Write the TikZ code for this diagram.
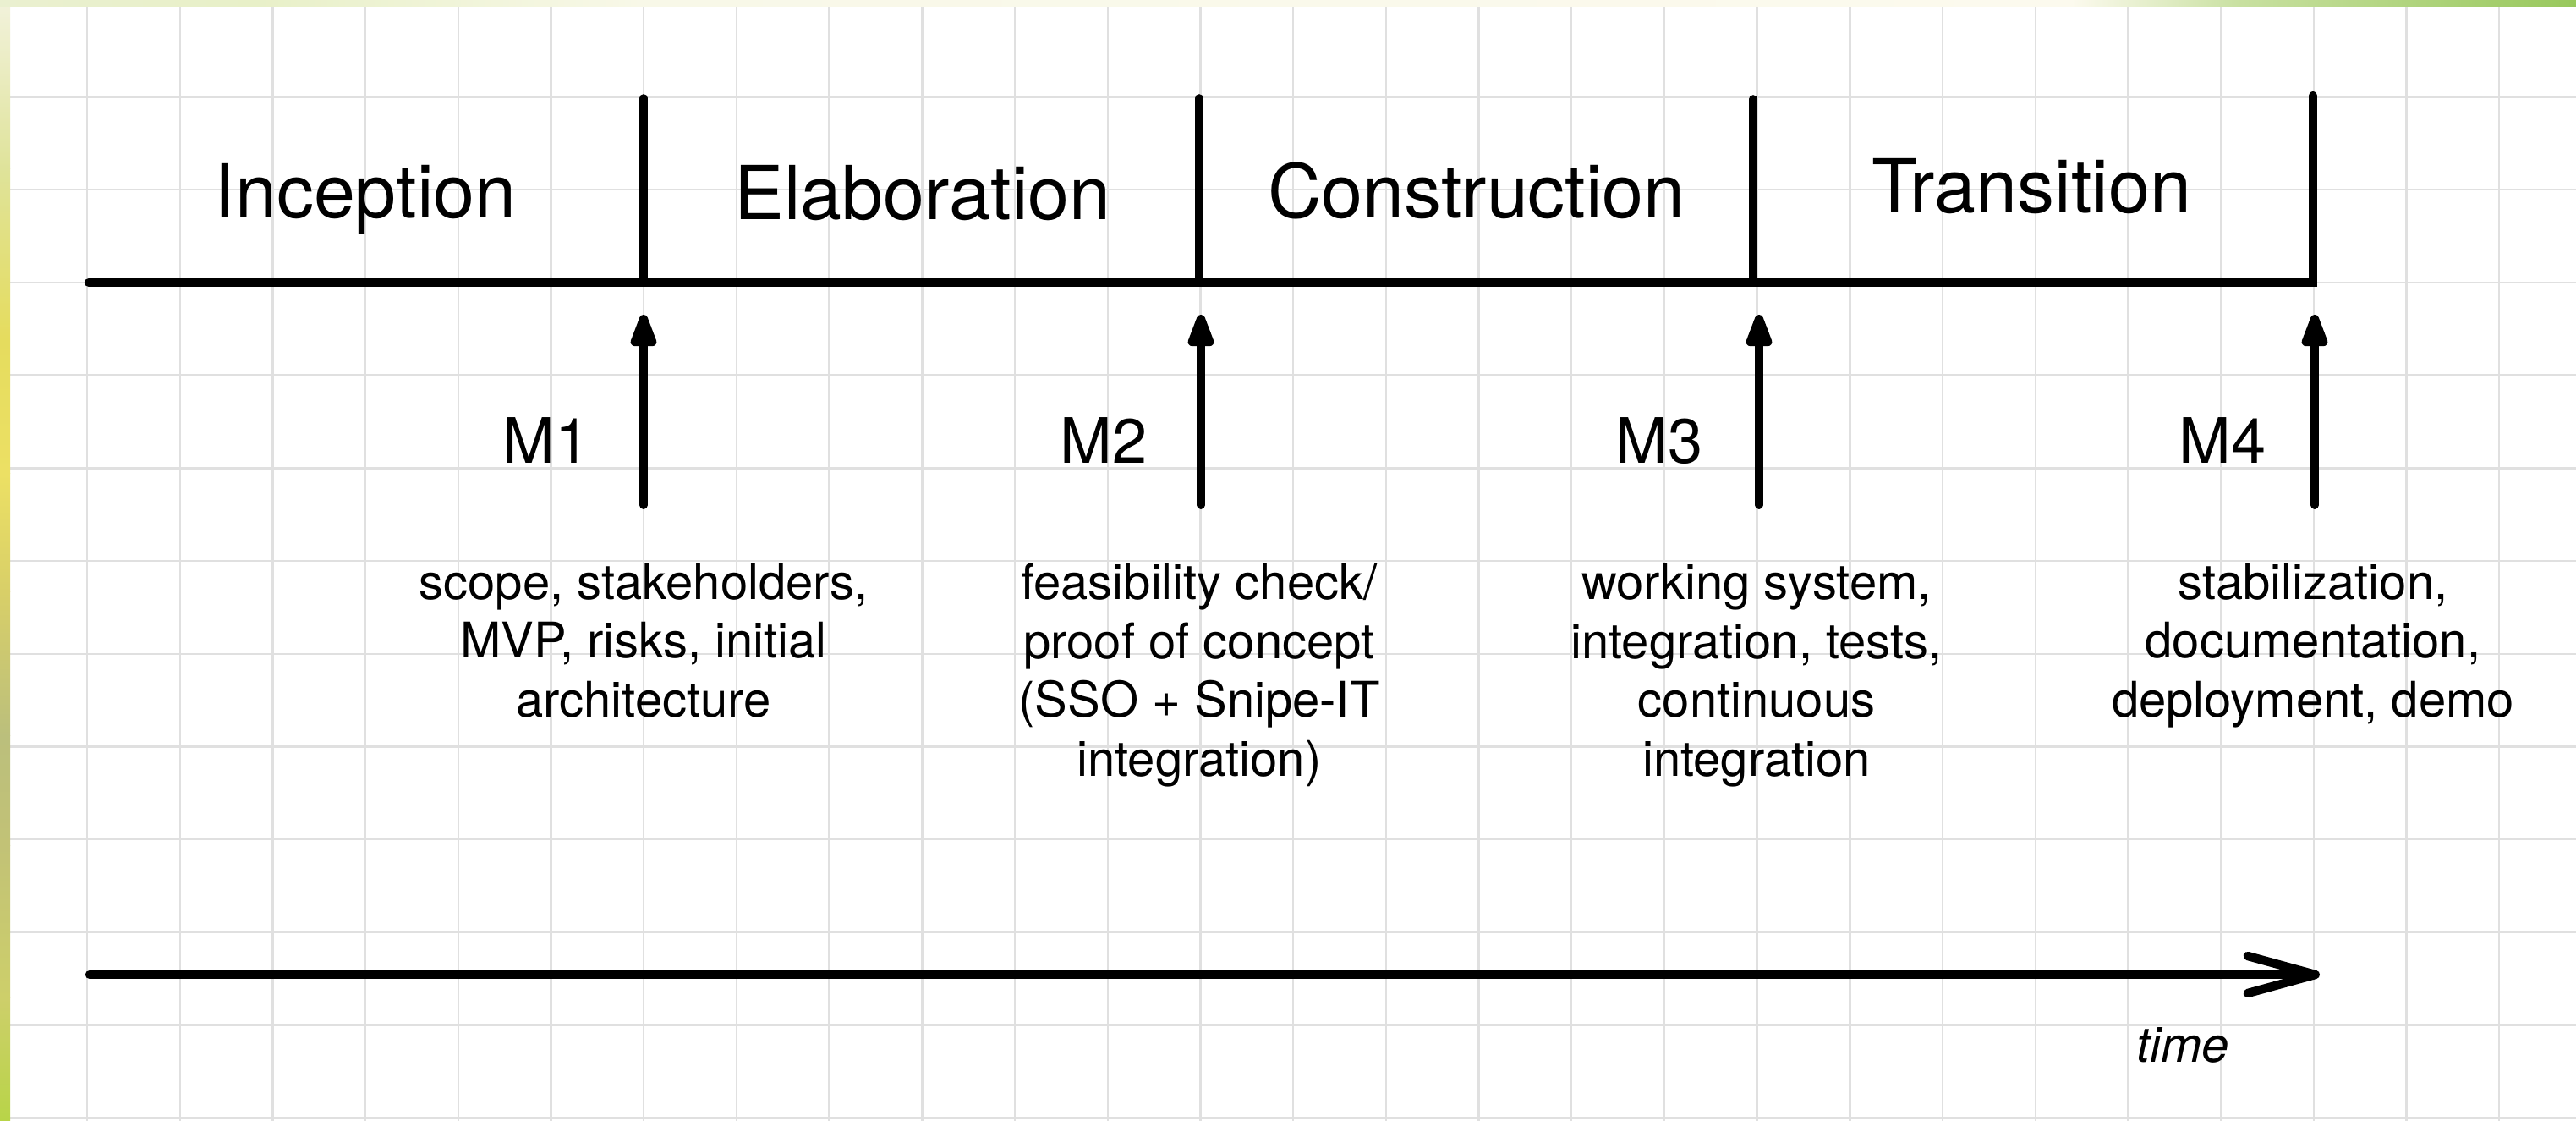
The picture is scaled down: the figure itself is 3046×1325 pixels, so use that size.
\documentclass[tikz,border=0pt]{standalone}
\usepackage{fontspec}
\setmainfont{TeX Gyre Heros}
\usetikzlibrary{arrows.meta}
\definecolor{gridc}{HTML}{E0E0E0}
\begin{document}
\begin{tikzpicture}[x=0.25pt,y=-0.25pt,
  phase/.style={font=\fontsize{22}{26}\selectfont, anchor=base, inner sep=0pt},
  mlabel/.style={font=\fontsize{18.5}{22}\selectfont, anchor=base, inner sep=0pt},
  desc/.style={font=\fontsize{14.5}{17.5}\selectfont, align=center, anchor=base, inner sep=0pt},
  timelbl/.style={font=\fontsize{14.5}{17.5}\selectfont\itshape, anchor=base, inner sep=0pt},
  mainline/.style={line width=2.6pt, line cap=round, line join=miter},
  tickline/.style={line width=2.4pt, line cap=round},
  msarrow/.style={line width=2.5pt, line cap=round, -{Triangle[length=12pt,width=8pt,round]}},
  timearrow/.style={line width=2.6pt, line cap=round, -{Straight Barb[length=20pt,width=11pt,round]}},
  gridline/.style={gridc, line width=0.6pt}]
\useasboundingbox (0,0) rectangle (3046,1325);
\fill[white] (0,0) rectangle (3046,1325);
% grid
\foreach \k in {0,...,26} \draw[gridline] ({103+109.7*\k},0) -- ({103+109.7*\k},1325);
\foreach \k in {-3,...,9} \draw[gridline] (0,{334+109.7*\k}) -- (3046,{334+109.7*\k});
% left border
\shade[top color={rgb,255:red,242;green,242;blue,220}, bottom color={rgb,255:red,223;green,227;blue,154}] (0,0) rectangle (12,200);
\shade[top color={rgb,255:red,223;green,227;blue,154}, bottom color={rgb,255:red,229;green,220;blue,94}] (0,200) rectangle (12,400);
\shade[top color={rgb,255:red,229;green,220;blue,94}, bottom color={rgb,255:red,236;green,224;blue,100}] (0,400) rectangle (12,560);
\shade[top color={rgb,255:red,236;green,224;blue,100}, bottom color={rgb,255:red,216;green,207;blue,104}] (0,560) rectangle (12,700);
\shade[top color={rgb,255:red,216;green,207;blue,104}, bottom color={rgb,255:red,187;green,191;blue,124}] (0,700) rectangle (12,870);
\shade[top color={rgb,255:red,187;green,191;blue,124}, bottom color={rgb,255:red,194;green,194;blue,118}] (0,870) rectangle (12,1000);
\shade[top color={rgb,255:red,194;green,194;blue,118}, bottom color={rgb,255:red,205;green,207;blue,106}] (0,1000) rectangle (12,1180);
\shade[top color={rgb,255:red,205;green,207;blue,106}, bottom color={rgb,255:red,184;green,212;blue,72}] (0,1180) rectangle (12,1325);
% top border
\shade[left color={rgb,255:red,234;green,240;blue,208}, right color={rgb,255:red,232;green,240;blue,200}] (0,0) rectangle (300,8);
\shade[left color={rgb,255:red,232;green,240;blue,200}, right color={rgb,255:red,248;green,248;blue,232}] (300,0) rectangle (760,8);
\shade[left color={rgb,255:red,248;green,248;blue,232}, right color={rgb,255:red,252;green,250;blue,238}] (760,0) rectangle (2450,8);
\shade[left color={rgb,255:red,252;green,250;blue,238}, right color={rgb,255:red,200;green,224;blue,160}] (2450,0) rectangle (2650,8);
\shade[left color={rgb,255:red,200;green,224;blue,160}, right color={rgb,255:red,152;green,200;blue,92}] (2650,0) rectangle (3046,8);
% coordinates
\coordinate (L0) at (105,334);
\coordinate (T1) at (761,334);  \coordinate (T1u) at (761,116);
\coordinate (T2) at (1418,334); \coordinate (T2u) at (1418,116);
\coordinate (T3) at (2073,334); \coordinate (T3u) at (2073,117);
\coordinate (T4) at (2735,334); \coordinate (T4u) at (2735,113);
\coordinate (A1b) at (761,597);  \coordinate (A1t) at (761,372);
\coordinate (A2b) at (1420,597); \coordinate (A2t) at (1420,372);
\coordinate (A3b) at (2080,597); \coordinate (A3t) at (2080,372);
\coordinate (A4b) at (2737,597); \coordinate (A4t) at (2737,372);
\coordinate (S0) at (106,1152); \coordinate (S1) at (2743,1152);
% timeline
\draw[mainline] (L0) -- (T4) -- (T4u);
\draw[tickline] (T1) -- (T1u);
\draw[tickline] (T2) -- (T2u);
\draw[tickline] (T3) -- (T3u);
% milestone arrows
\draw[msarrow] (A1b) -- (A1t);
\draw[msarrow] (A2b) -- (A2t);
\draw[msarrow] (A3b) -- (A3t);
\draw[msarrow] (A4b) -- (A4t);
% time arrow
\draw[timearrow] (S0) -- (S1);
% labels
\node[phase] (inc) at (432,258) {Inception};
\node[phase] (ela) at (1091,260) {Elaboration};
\node[phase] (con) at (1746,258) {Construction};
\node[phase] (tra) at (2402,252) {Transition};
\node[mlabel] (m1) at (646,548) {M1};
\node[mlabel] (m2) at (1305,548) {M2};
\node[mlabel] (m3) at (1962,548) {M3};
\node[mlabel] (m4) at (2628,548) {M4};
% multi-line nodes: base anchor sits on the last line's baseline
\node[desc] (d1) at (761,848) {scope, stakeholders,\\MVP, risks, initial\\architecture};
\node[desc] (d2) at (1418,918) {feasibility check/\\proof of concept\\(SSO + Snipe-IT\\integration)};
\node[desc] (d3) at (2077,918) {working system,\\integration, tests,\\continuous\\integration};
\node[desc] (d4) at (2735,848) {stabilization,\\documentation,\\deployment, demo};
\node[timelbl] (tl) at (2581,1255) {time};
\end{tikzpicture}
\end{document}
